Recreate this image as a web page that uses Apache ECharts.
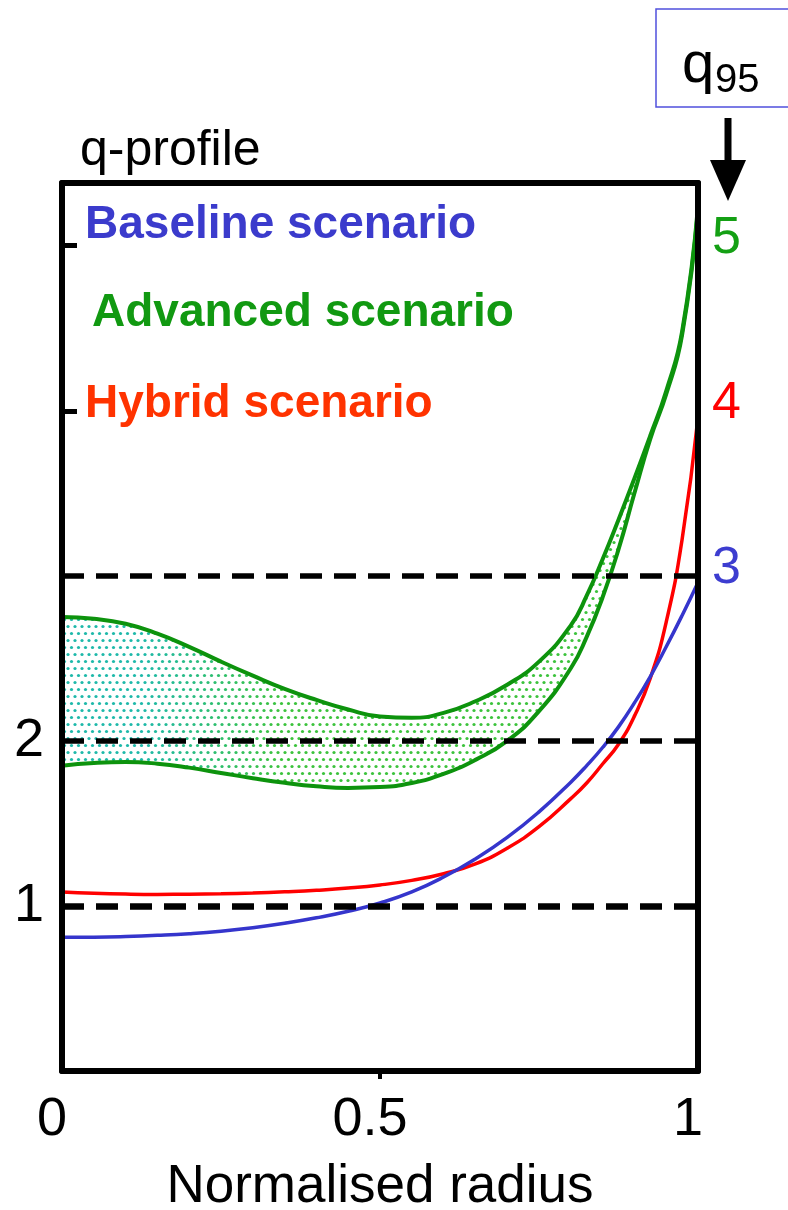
<!DOCTYPE html>
<html>
<head>
<meta charset="utf-8">
<script src="https://cdn.jsdelivr.net/npm/echarts@6/dist/echarts.min.js"></script>
<style>
  html, body { margin: 0; padding: 0; background: #fff; }
  #chart { width: 788px; height: 1210px; }
</style>
</head>
<body>
<div id="chart"></div>
<script>
// normalised radius samples
const radius = [0, 0.05, 0.1, 0.15, 0.2, 0.25, 0.3, 0.35, 0.4, 0.45, 0.5, 0.55, 0.6, 0.65, 0.7, 0.75, 0.8, 0.825, 0.85, 0.875, 0.9, 0.925, 0.95, 0.975, 1]
// q values
const baselineQ = [0.81, 0.811, 0.815, 0.822, 0.832, 0.847, 0.868, 0.895, 0.928, 0.968, 1.018, 1.085, 1.175, 1.285, 1.415, 1.57, 1.75, 1.85, 1.96, 2.085, 2.23, 2.39, 2.57, 2.76, 2.96]
const hybridQ = [1.085, 1.077, 1.072, 1.07, 1.071, 1.074, 1.079, 1.086, 1.095, 1.108, 1.127, 1.155, 1.195, 1.255, 1.35, 1.48, 1.65, 1.745, 1.86, 1.98, 2.15, 2.38, 2.72, 3.22, 3.96]
const advancedUpperQ = [2.75, 2.74, 2.71, 2.65, 2.57, 2.48, 2.395, 2.315, 2.248, 2.19, 2.148, 2.14, 2.17, 2.24, 2.34, 2.48, 2.7, 2.88, 3.1, 3.34, 3.59, 3.85, 4.12, 4.48, 5.24]
const advancedLowerQ = [1.85, 1.866, 1.872, 1.862, 1.838, 1.806, 1.774, 1.746, 1.725, 1.715, 1.72, 1.745, 1.8, 1.885, 2.0, 2.18, 2.44, 2.63, 2.87, 3.16, 3.5, 3.83, 4.1, 4.46, 5.22]
// reference q levels (dashed) and labelled ticks
const qLevels = [1, 2, 3]
const leftLabels = [1, 2]
const leftTicks = [4, 5]
const q95Labels = [3, 4, 5]
const xTicks = [0.5]

const BLUE = '#3535cc'
const RED = '#ff0000'
const GREEN = '#0d930d'
const FONT = '"Liberation Sans", Arial, sans-serif'
const q95Colors = { 3: '#3d3dd0', 4: '#ff0000', 5: '#14a014' }

function pairs(ys) {
  return radius.map((x, i) => [x, ys[i]])
}

// dotted fill, teal on the left fading to green
function makeDots() {
  const c = document.createElement('canvas')
  c.width = 788
  c.height = 14
  const ctx = c.getContext('2d')
  for (let row = 0; row < 2; row++) {
    for (let x = row ? 3.5 : 0; x < 788; x += 7) {
      const t = Math.min(1, Math.max(0, (x - 140) / 140))
      const r = Math.round(30 + t * 30)
      const g = Math.round(185 + t * 10)
      const b = Math.round(170 - t * 110)
      ctx.fillStyle = 'rgb(' + r + ',' + g + ',' + b + ')'
      ctx.beginPath()
      ctx.arc(x + 1.5, row * 7 + 3.5, 1.6, 0, Math.PI * 2)
      ctx.fill()
    }
  }
  return c
}

const chart = echarts.init(document.getElementById('chart'), null, { renderer: 'canvas' })

const axisLine = { show: true, onZero: false, lineStyle: { color: '#000', width: 6 } }

const lineBase = { type: 'line', smooth: 0.5, symbol: 'none' }

const option = {
  animation: false,
  backgroundColor: '#fff',
  grid: {
    left: 62,
    right: 90,
    top: 183,
    bottom: 139,
    containLabel: false,
    outerBoundsMode: 'none'
  },
  xAxis: [
    {
      type: 'value',
      min: 0,
      max: 1,
      interval: 0.5,
      position: 'bottom',
      z: 10,
      axisLine: axisLine,
      axisTick: { show: true, customValues: xTicks, length: 8, lineStyle: { color: '#000', width: 4 } },
      axisLabel: {
        fontSize: 54,
        fontFamily: FONT,
        color: '#000',
        margin: 22,
        padding: [0, 20, 0, 0],
        formatter: v => String(v)
      },
      splitLine: { show: false },
      name: 'Normalised radius',
      nameLocation: 'middle',
      nameGap: 90,
      nameTextStyle: { fontSize: 53, fontFamily: FONT, color: '#000' }
    },
    {
      type: 'value',
      min: 0,
      max: 1,
      position: 'top',
      z: 10,
      axisLine: axisLine,
      axisTick: { show: false },
      axisLabel: { show: false },
      splitLine: { show: false }
    }
  ],
  yAxis: [
    {
      type: 'value',
      min: 0,
      max: 5.38,
      interval: 1,
      position: 'left',
      z: 10,
      axisLine: axisLine,
      axisTick: { show: true, inside: true, customValues: leftTicks, length: 15, lineStyle: { color: '#000', width: 5 } },
      axisLabel: {
        customValues: leftLabels,
        fontSize: 54,
        fontFamily: FONT,
        color: '#000',
        margin: 18
      },
      splitLine: { show: false }
    },
    {
      type: 'value',
      min: 0,
      max: 5.38,
      position: 'right',
      z: 10,
      axisLine: axisLine,
      axisTick: { show: false },
      axisLabel: {
        customValues: q95Labels,
        fontSize: 52,
        fontFamily: FONT,
        margin: 14,
        verticalAlign: 'bottom',
        lineHeight: 14,
        color: v => q95Colors[v]
      },
      splitLine: { show: false }
    }
  ],
  series: [
    Object.assign({}, lineBase, {
      name: 'Advanced band',
      z: 1,
      data: pairs(advancedUpperQ),
      lineStyle: { width: 0, opacity: 0 },
      areaStyle: { color: { image: makeDots(), repeat: 'repeat' }, opacity: 1 }
    }),
    Object.assign({}, lineBase, {
      name: 'Advanced lower',
      z: 2,
      data: pairs(advancedLowerQ),
      lineStyle: { color: GREEN, width: 4 },
      areaStyle: { color: '#fff', opacity: 1 }
    }),
    Object.assign({}, lineBase, {
      name: 'Advanced scenario',
      z: 3,
      data: pairs(advancedUpperQ),
      lineStyle: { color: GREEN, width: 4 }
    }),
    Object.assign({}, lineBase, {
      name: 'Hybrid scenario',
      z: 3,
      data: pairs(hybridQ),
      lineStyle: { color: RED, width: 3.5 }
    }),
    Object.assign({}, lineBase, {
      name: 'Baseline scenario',
      z: 3,
      data: pairs(baselineQ),
      lineStyle: { color: BLUE, width: 3.5 },
      markLine: {
        silent: true,
        symbol: 'none',
        label: { show: false },
        data: qLevels.map(q => ({
          yAxis: q,
          lineStyle: { color: '#000', width: q === 1 ? 6.5 : 5.5, type: [22, 12] }
        }))
      }
    })
  ],
  graphic: [
    {
      type: 'text',
      left: 80,
      top: 126,
      style: { text: 'q-profile', font: '50px ' + FONT, fill: '#000' }
    },
    {
      type: 'text',
      left: 85,
      top: 202,
      style: { text: 'Baseline scenario', font: 'bold 46px ' + FONT, fill: '#3b3bcc' }
    },
    {
      type: 'text',
      left: 92,
      top: 290,
      style: { text: 'Advanced scenario', font: 'bold 46px ' + FONT, fill: '#119911' }
    },
    {
      type: 'text',
      left: 85,
      top: 381,
      style: { text: 'Hybrid scenario', font: 'bold 46px ' + FONT, fill: '#ff3300' }
    },
    {
      type: 'rect',
      shape: { x: 656, y: 9, width: 200, height: 98 },
      style: { fill: 'none', stroke: '#5050dd', lineWidth: 1.5 }
    },
    {
      type: 'text',
      left: 682,
      top: 37,
      style: { text: 'q', font: '58px ' + FONT, fill: '#000' }
    },
    {
      type: 'text',
      left: 715,
      top: 61,
      style: { text: '95', font: '40px ' + FONT, fill: '#000' }
    },
    {
      type: 'line',
      shape: { x1: 728, y1: 118, x2: 728, y2: 166 },
      style: { stroke: '#000', lineWidth: 7 }
    },
    {
      type: 'polygon',
      shape: { points: [[710, 160], [746, 160], [728, 201]] },
      style: { fill: '#000' }
    }
  ]
}

chart.setOption(option)
window.addEventListener('resize', () => chart.resize())
</script>
</body>
</html>
